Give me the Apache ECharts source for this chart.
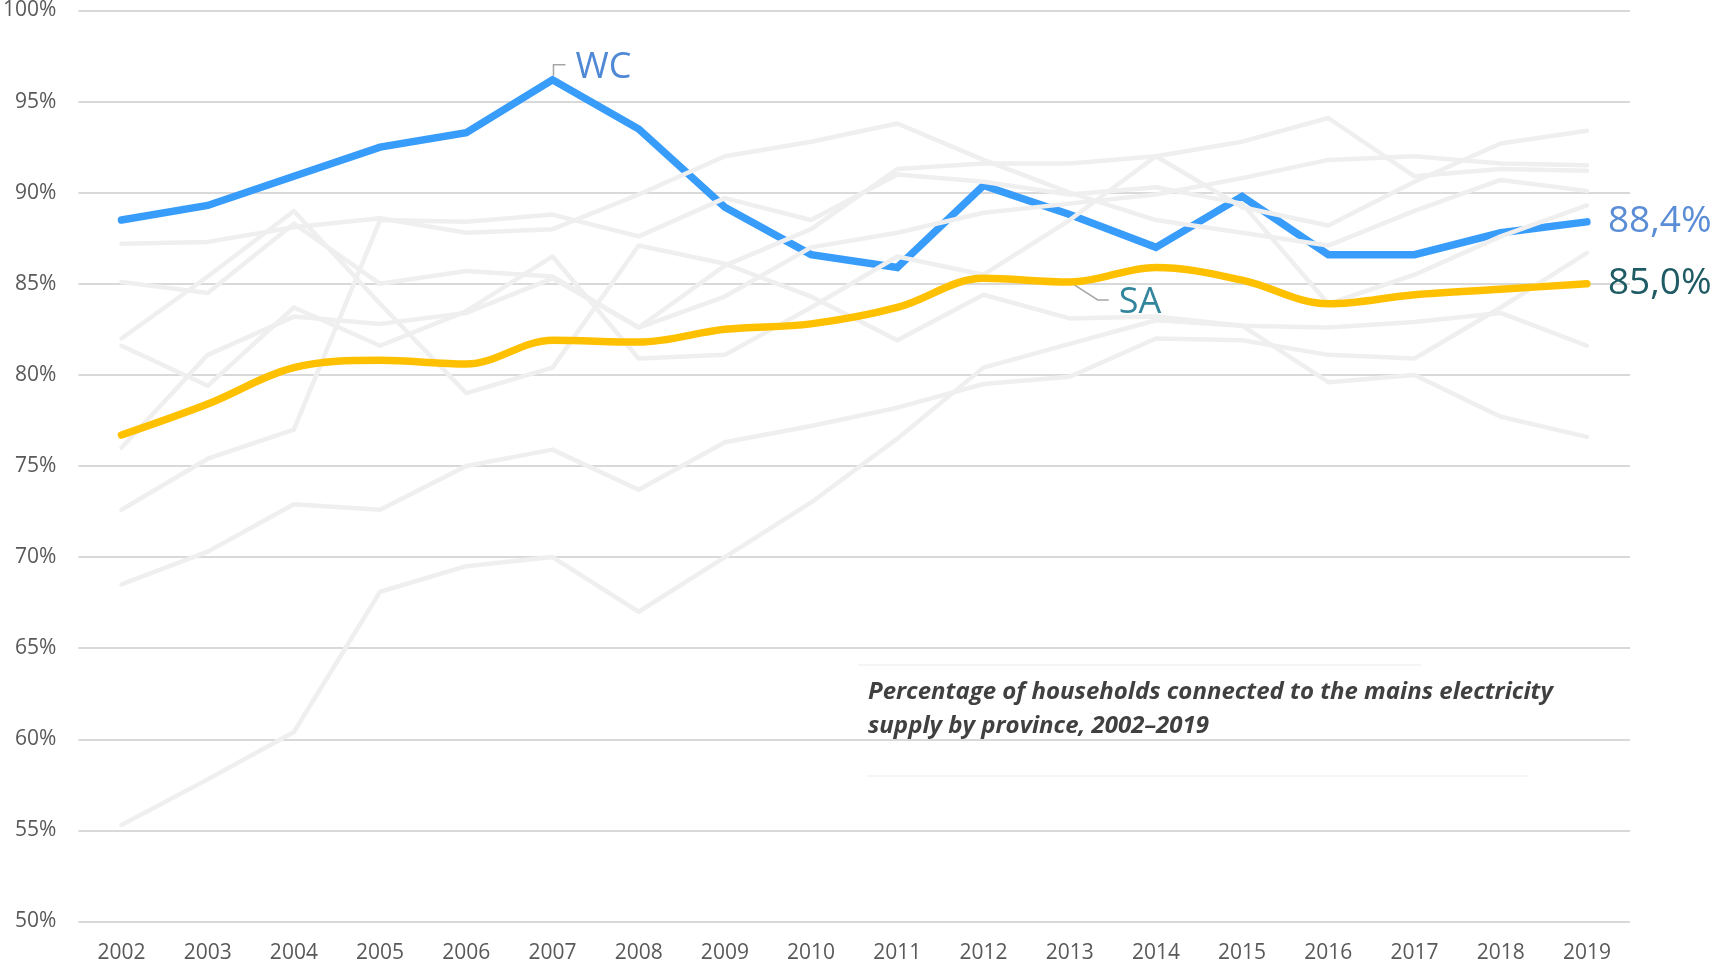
<!DOCTYPE html>
<html>
<head>
<meta charset="utf-8">
<script src="https://cdn.jsdelivr.net/npm/echarts@6/dist/echarts.min.js"></script>
<style>
    html, body {margin: 0; padding: 0; background: #fff;}
    #main {width: 1714px; height: 966px;}
</style>
</head>
<body>
<div id="main"></div>
<script>
var years = ['2002', '2003', '2004', '2005', '2006', '2007', '2008', '2009', '2010',
    '2011', '2012', '2013', '2014', '2015', '2016', '2017', '2018', '2019'];

// highlighted series
var wc = [88.5, 89.3, 90.9, 92.5, 93.3, 96.2, 93.5, 89.2, 86.6, 85.9, 90.4, 88.8, 87.0, 89.8, 86.6, 86.6, 87.8, 88.4];
var sa = [76.7, 78.4, 80.4, 80.8, 80.6, 81.9, 81.8, 82.5, 82.8, 83.7, 85.3, 85.1, 85.9, 85.2, 83.9, 84.4, 84.7, 85.0];

// the other provinces, drawn in light grey
var prov1 = [87.2, 87.3, 88.1, 88.6, 87.8, 88.0, 89.9, 92.0, 92.8, 93.8, 91.8, 90.0, 88.5, 87.8, 87.1, 89.0, 90.7, 90.1];
var prov2 = [85.1, 84.5, 88.3, 85.0, 85.7, 85.4, 82.6, 86.0, 88.0, 91.3, 91.6, 91.6, 92.0, 92.8, 94.1, 90.9, 91.3, 91.2];
var prov3 = [82.0, 85.4, 89.0, 83.9, 79.0, 80.4, 87.1, 86.1, 84.3, 81.9, 84.4, 83.1, 83.2, 82.7, 79.6, 80.0, 77.7, 76.6];
var prov4 = [81.6, 79.4, 83.7, 81.6, 83.5, 86.5, 80.9, 81.1, 83.7, 86.5, 85.5, 88.5, 92.0, 89.2, 88.2, 90.6, 92.7, 93.4];
var prov5 = [76.0, 81.1, 83.2, 82.8, 83.4, 85.3, 82.6, 84.3, 87.0, 87.8, 88.9, 89.4, 89.9, 90.8, 91.8, 92.0, 91.6, 91.5];
var prov6 = [72.6, 75.4, 77.0, 88.5, 88.4, 88.8, 87.6, 89.7, 88.5, 91.0, 90.6, 89.9, 90.3, 89.4, 83.9, 85.5, 87.6, 89.3];
var prov7 = [68.5, 70.3, 72.9, 72.6, 75.0, 75.9, 73.7, 76.3, 77.2, 78.2, 79.5, 79.9, 82.0, 81.9, 81.1, 80.9, 83.7, 86.7];
var prov8 = [55.3, 57.8, 60.4, 68.1, 69.5, 70.0, 67.0, 70.0, 73.0, 76.5, 80.4, 81.7, 83.0, 82.7, 82.6, 82.9, 83.4, 81.6];

var yTicks = [50, 100, 5];   // min, max, step
var title1 = 'Percentage of households connected to the mains electricity';
var title2 = 'supply by province, 2002\u20132019';

var font = "'Open Sans', 'Noto Sans', sans-serif";
var myChart = echarts.init(document.getElementById('main'));

function pct(v) {
    return v.toFixed(1).replace('.', ',') + '%';
}

function greyLine(name, data) {
    return {
        name: name,
        type: 'line',
        data: data,
        symbol: 'none',
        silent: true,
        z: 3,
        lineStyle: {color: '#efefef', width: 4.5, cap: 'round', join: 'round'}
    };
}

var serdata = [
    {
        name: 'WC',
        type: 'line',
        data: wc,
        symbol: 'none',
        z: 2,
        lineStyle: {color: '#389cfb', width: 7.5, cap: 'round', join: 'miter'},
        endLabel: {
            show: true, distance: 21, fontFamily: font, fontSize: 37,
            color: '#5a8dd6', formatter: function (p) { return pct(p.value); }
        }
    },
    greyLine('p1', prov1), greyLine('p2', prov2), greyLine('p3', prov3), greyLine('p4', prov4),
    greyLine('p5', prov5), greyLine('p6', prov6), greyLine('p7', prov7), greyLine('p8', prov8),
    {
        name: 'SA',
        type: 'line',
        data: sa,
        symbol: 'none',
        smooth: 0.35,
        z: 5,
        lineStyle: {color: '#ffc000', width: 7.5, cap: 'round'},
        endLabel: {
            show: true, distance: 21, fontFamily: font, fontSize: 37,
            color: '#1e5b64', formatter: function (p) { return pct(p.value); }
        }
    }
];

option = {
    animation: false,
    grid: {left: 78, right: 84, top: 10.5, bottom: 44.5, containLabel: false},
    xAxis: {
        type: 'category',
        boundaryGap: true,
        data: years,
        axisLine: {show: false},
        axisTick: {show: false},
        axisLabel: {color: '#595959', fontFamily: font, fontSize: 21, margin: 21}
    },
    yAxis: {
        type: 'value',
        min: yTicks[0],
        max: yTicks[1],
        interval: yTicks[2],
        axisLabel: {color: '#595959', fontFamily: font, fontSize: 21, margin: 22, formatter: '{value}%'},
        splitLine: {lineStyle: {color: '#d9d9d9', width: 2}}
    },
    series: serdata
};
myChart.setOption(option);

// callouts for WC (at its peak) and SA (2013), placed from the chart's own scale
var peak = wc.indexOf(Math.max.apply(null, wc));
var pw = myChart.convertToPixel({gridIndex: 0}, [peak, wc[peak]]);
var saIdx = years.indexOf('2013');
var ps = myChart.convertToPixel({gridIndex: 0}, [saIdx, sa[saIdx]]);

myChart.setOption({
    graphic: [
        {
            type: 'polyline', silent: true,
            shape: {points: [[pw[0] + 1, pw[1] - 4], [pw[0] + 1, pw[1] - 15], [pw[0] + 13, pw[1] - 15]]},
            style: {stroke: '#a6a6a6', lineWidth: 1.5, fill: null}
        },
        {
            type: 'text', x: pw[0] + 23, y: pw[1] - 12, silent: true,
            style: {text: 'WC', fontFamily: font, fontSize: 36, fill: '#4f88d4', verticalAlign: 'middle'}
        },
        {
            type: 'polyline', silent: true, z: 1,
            shape: {points: [[ps[0], ps[1]], [ps[0] + 28, ps[1] + 18], [ps[0] + 39, ps[1] + 18]]},
            style: {stroke: '#a6a6a6', lineWidth: 1.5, fill: null}
        },
        {
            type: 'text', x: ps[0] + 49, y: ps[1] + 21, silent: true,
            style: {text: 'SA', fontFamily: font, fontSize: 36, fill: '#31859c', verticalAlign: 'middle'}
        },
        // chart caption inside a faint text box
        {
            type: 'line', silent: true,
            shape: {x1: 858, y1: 665, x2: 1421, y2: 665},
            style: {stroke: '#f2f2f2', lineWidth: 1.5}
        },
        {
            type: 'line', silent: true,
            shape: {x1: 867, y1: 776, x2: 1527, y2: 776},
            style: {stroke: '#f2f2f2', lineWidth: 1.5}
        },
        {
            type: 'text', x: 868, y: 692, silent: true,
            style: {text: title1, fontFamily: font, fontSize: 24, fontWeight: 'bold', fontStyle: 'italic',
                fill: '#404040', verticalAlign: 'middle'}
        },
        {
            type: 'text', x: 868, y: 726, silent: true,
            style: {text: title2, fontFamily: font, fontSize: 24, fontWeight: 'bold', fontStyle: 'italic',
                fill: '#404040', verticalAlign: 'middle'}
        }
    ]
});
</script>
</body>
</html>
